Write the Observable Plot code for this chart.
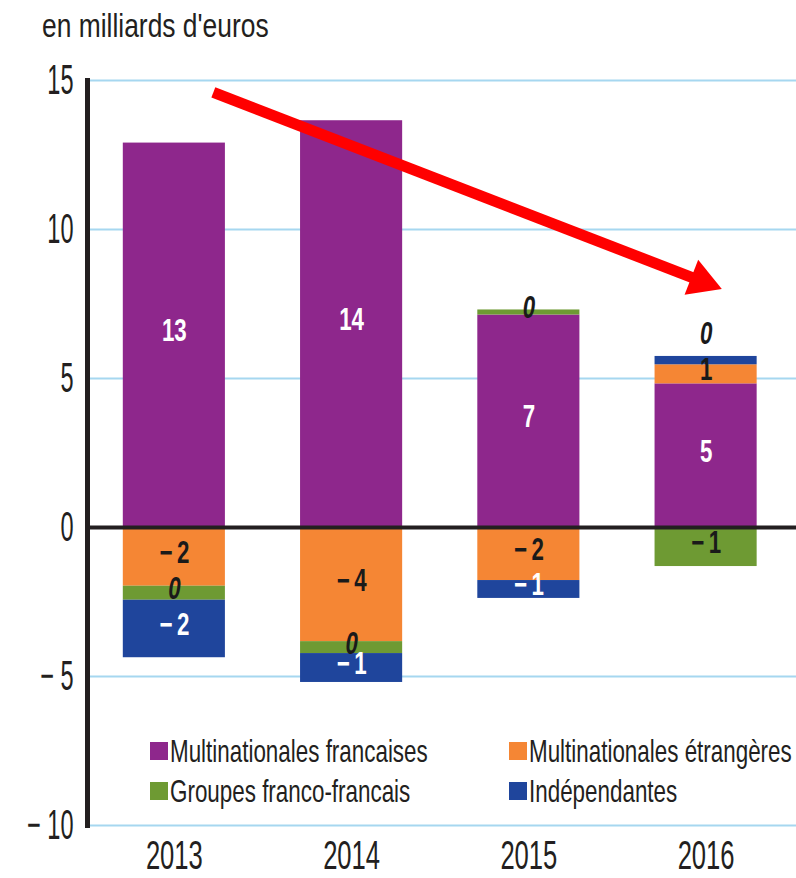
<!DOCTYPE html>
<html><head><meta charset="utf-8">
<script src="https://cdn.jsdelivr.net/npm/d3@7"></script>
<script src="https://cdn.jsdelivr.net/npm/@observablehq/plot@0.6"></script>
<style>
body{margin:0;background:#fff;}
#wrap{position:relative;width:796px;height:878px;overflow:hidden;font-family:"Liberation Sans",Arial,sans-serif;color:#231f20;}
#title{position:absolute;left:42px;top:9px;font-size:33px;line-height:33px;white-space:nowrap;transform:scaleX(0.8);transform-origin:0 0;}
.lg{position:absolute;display:flex;align-items:center;height:32px;white-space:nowrap;}
.lg .sw{display:inline-block;width:18px;height:18px;margin-right:2px;flex:none;}
.lg .tx{display:inline-block;font-size:32px;line-height:32px;transform:scaleX(0.7);transform-origin:0 50%;}
#chart svg{display:block;}
</style></head>
<body><div id="wrap"><div id="title">en milliards d'euros</div><div id="chart"></div></div>
<script>
const years = ["2013", "2014", "2015", "2016"];
const series = ["Multinationales francaises", "Multinationales étrangères", "Groupes franco-francais", "Indépendantes"];
const colors = ["#8e278c", "#f58634", "#6e9a33", "#1f459c"];
const multinatFrancaises = [12.9, 13.65, 7.13, 4.82];
const multinatEtrangeres = [-1.97, -3.83, -1.78, 0.64];
const groupesFrancoFrancais = [-0.47, -0.40, 0.17, -1.31];
const independantes = [-1.93, -0.97, -0.60, 0.28];
const yTicks = [-10, -5, 0, 5, 10, 15];
const labelAbove = ["2016|Indépendantes"];
const arrowStart = {x: 0.22, y: 14.6};
const arrowEnd = {x: 3.09, y: 8.0};

const values = [multinatFrancaises, multinatEtrangeres, groupesFrancoFrancais, independantes];
const data = [];
years.forEach((yr, i) => series.forEach((s, k) => data.push({idx: i, year: yr, series: s, value: values[k][i]})));

const W = 796, H = 878, mT = 80, mB = 53, mL = 87, mR = 0;
const xDom = [-0.49, 3.51], yDom = [-10, 15];
const half = 0.288;
const fmtNum = v => { const r = Math.round(v); return r < 0 ? "\u2212\u2009" + Math.abs(r) : String(Math.abs(r)); };
const fmtTick = v => v < 0 ? "\u2212 " + Math.abs(v) : String(v);
const isZero = d => Math.round(d.value) === 0;
const onDark = d => d.series === series[0] || d.series === series[3];
const above = d => labelAbove.includes(d.year + "|" + d.series);

// arrow geometry (pixel ratios from the scale setup)
const kx = (W - mL - mR) / (xDom[1] - xDom[0]);
const ky = (H - mT - mB) / (yDom[1] - yDom[0]);
const dxp = (arrowEnd.x - arrowStart.x) * kx, dyp = -(arrowEnd.y - arrowStart.y) * ky;
const L = Math.hypot(dxp, dyp);
const angle = Math.atan2(dyp, dxp) * 180 / Math.PI;
const lerp = t => ({x: arrowStart.x + t * (arrowEnd.x - arrowStart.x), y: arrowStart.y + t * (arrowEnd.y - arrowStart.y)});
const head = lerp(1 - 22 / L);
const shaftEnd = lerp(1 - 18 / L);

const LBL = 31;
const textBase = {fontSize: LBL, fontWeight: "bold", text: d => fmtNum(d.value), dy: -4};
const stackText = (test, extra) => Plot.text(data, Plot.filter(test, Plot.stackY({x: "idx", y: "value", ...textBase, ...extra})));

const chart = Plot.plot({
  width: W, height: H, marginTop: mT, marginBottom: mB, marginLeft: mL, marginRight: mR,
  style: {fontFamily: '"Liberation Sans",Arial,sans-serif', color: "#231f20", background: "white"},
  x: {type: "linear", domain: xDom},
  y: {domain: yDom},
  color: {domain: series, range: colors},
  marks: [
    Plot.gridY(yTicks.filter(v => v !== 0), {stroke: "#a6d7f0", strokeOpacity: 1, strokeWidth: 2}),
    Plot.rectY(data, {x1: d => d.idx - half, x2: d => d.idx + half, y: "value", fill: "series"}),
    Plot.ruleY([0], {stroke: "#231f20", strokeWidth: 4}),
    Plot.frame({anchor: "left", stroke: "#231f20", strokeWidth: 5}),
    stackText(d => !isZero(d) && onDark(d) && !above(d), {fill: "white"}),
    stackText(d => !isZero(d) && !onDark(d) && !above(d), {fill: "#1a1a1a"}),
    stackText(d => isZero(d) && !above(d), {fill: "#1a1a1a", fontStyle: "italic"}),
    Plot.text(data, Plot.filter(above, Plot.stackY2({x: "idx", y: "value", ...textBase, fill: "#1a1a1a", fontStyle: "italic", dy: -22}))),
    Plot.link([{a: arrowStart, b: shaftEnd}], {x1: d => d.a.x, y1: d => d.a.y, x2: d => d.b.x, y2: d => d.b.y, stroke: "#ff0000", strokeWidth: 11, strokeLinecap: "butt"}),
    Plot.dot([head], {x: "x", y: "y", symbol: "triangle", r: 14, fill: "#ff0000", stroke: "none", rotate: angle + 90}),
    Plot.axisY({ticks: yTicks, tickFormat: fmtTick, tickSize: 0, tickPadding: 14, fontSize: 42, label: null}),
    Plot.axisX({ticks: [0, 1, 2, 3], tickFormat: i => years[i], tickSize: 0, tickPadding: 15, fontSize: 40, label: null})
  ]
});

// condensed look: squeeze each text horizontally around its anchor
const squeeze = {"42": 0.56, "40": 0.64, [String(LBL)]: 0.72};
chart.querySelectorAll("text").forEach(t => {
  let el = t, fs = null;
  while (el && el !== chart) {
    if (el.getAttribute && el.getAttribute("font-size")) { fs = el.getAttribute("font-size"); break; }
    el = el.parentNode;
  }
  const s = squeeze[fs];
  if (!s) return;
  const x = +t.getAttribute("x") || 0, y = +t.getAttribute("y") || 0;
  const tr = t.getAttribute("transform") || "";
  t.setAttribute("transform", `${tr} translate(${x},${y}) scale(${s},1) translate(${-x},${-y})`);
});
document.getElementById("chart").appendChild(chart);

// legend overlay
const wrap = document.getElementById("wrap");
const lgLeft = [150, 509], lgTop = [735, 775];
series.forEach((s, k) => {
  const div = document.createElement("div");
  div.className = "lg";
  div.style.left = lgLeft[k % 2] + "px";
  div.style.top = lgTop[Math.floor(k / 2)] + "px";
  div.innerHTML = `<span class="sw" style="background:${colors[k]}"></span><span class="tx">${s}</span>`;
  wrap.appendChild(div);
});
</script>
</body></html>
